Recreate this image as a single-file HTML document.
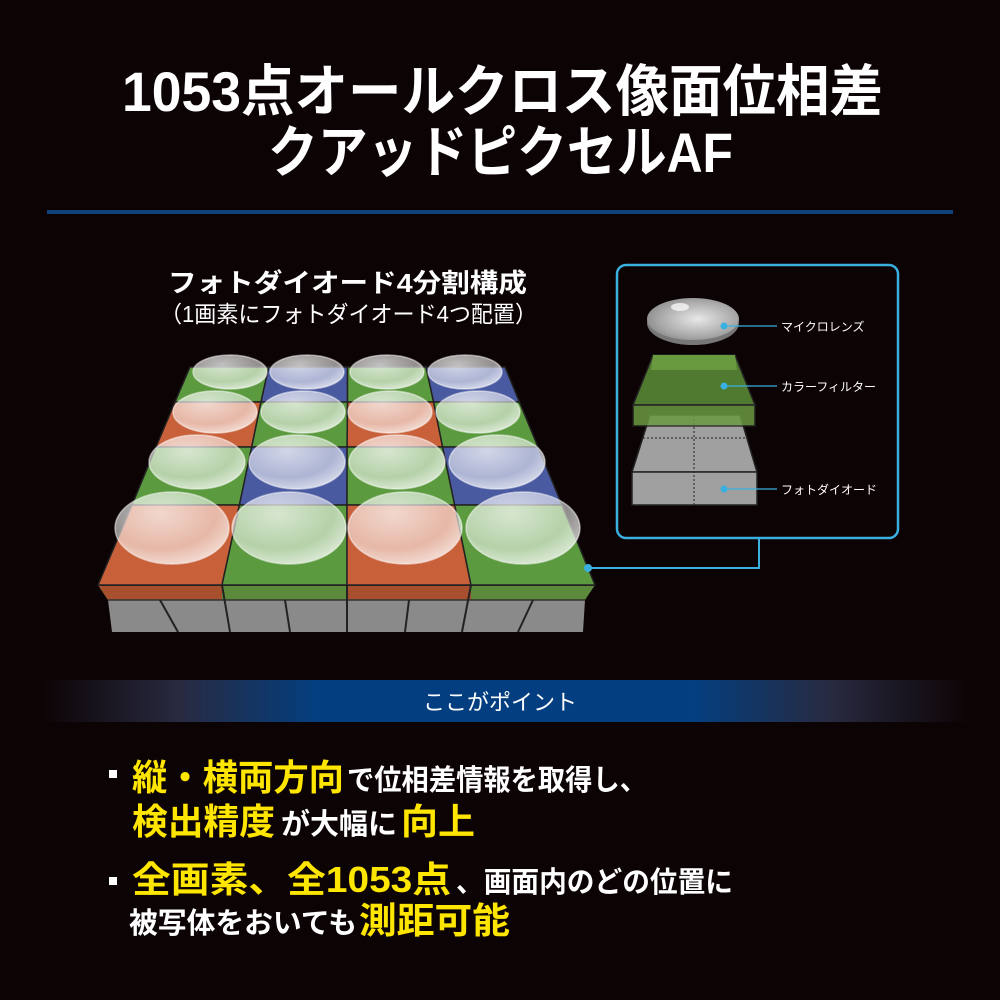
<!DOCTYPE html>
<html><head><meta charset="utf-8"><style>
html,body{margin:0;padding:0;background:#0c0304;}
svg{display:block}
text{font-family:"Liberation Sans","Noto Sans CJK JP",sans-serif;}
</style></head><body>
<svg width="1000" height="1000" viewBox="0 0 1000 1000" xmlns="http://www.w3.org/2000/svg">
<defs>
<linearGradient id="band" x1="0" x2="1" y1="0" y2="0">
<stop offset="0" stop-color="#0c0304"/><stop offset="0.15" stop-color="#282a40"/><stop offset="0.3" stop-color="#033f80"/><stop offset="0.7" stop-color="#033f80"/><stop offset="0.85" stop-color="#282a40"/><stop offset="1" stop-color="#0c0304"/>
</linearGradient>
<radialGradient id="lens" cx="0.4" cy="0.3" r="0.7">
<stop offset="0" stop-color="#ffffff" stop-opacity="0.75"/><stop offset="0.7" stop-color="#ffffff" stop-opacity="0.55"/><stop offset="1" stop-color="#ffffff" stop-opacity="0.75"/>
</radialGradient>
<radialGradient id="glens" cx="0.55" cy="0.5" r="0.6">
<stop offset="0" stop-color="#e8e8e8"/><stop offset="0.7" stop-color="#a8a8a8"/><stop offset="1" stop-color="#888"/>
</radialGradient>
</defs>
<rect width="1000" height="1000" fill="#0c0304"/>
<text x="122" y="111" font-size="56" font-weight="bold" fill="#fff" textLength="761" lengthAdjust="spacingAndGlyphs">1053点オールクロス像面位相差</text>
<text x="268" y="172" font-size="56" font-weight="bold" fill="#fff" textLength="465" lengthAdjust="spacingAndGlyphs">クアッドピクセルAF</text>
<rect x="47" y="210" width="906" height="4" fill="#10427a"/>
<text x="168" y="292" font-size="26" font-weight="bold" fill="#fff" textLength="359" lengthAdjust="spacingAndGlyphs">フォトダイオード4分割構成</text>
<text x="160" y="322" font-size="23" fill="#fff" textLength="377" lengthAdjust="spacingAndGlyphs">（1画素にフォトダイオード4つ配置）</text>

<!-- grid side -->
<polygon points="98,585 595,585 585,600 108,600" fill="#5a8a3a"/>
<polygon points="98,585 222,585 222,600 108,600" fill="#a8502e"/>
<polygon points="347,585 471,585 471,600 347,600" fill="#a8502e"/>
<polygon points="108,600 585,600 583,632 112,632" fill="#8a8a8a"/>
<line x1="98" y1="585" x2="595" y2="585" stroke="#222" stroke-width="2"/>
<line x1="108" y1="600" x2="585" y2="600" stroke="#333" stroke-width="1.5"/>
<g stroke="#222" stroke-width="2"><line x1="222" y1="585" x2="230" y2="632"/><line x1="347" y1="585" x2="347" y2="632"/><line x1="471" y1="585" x2="462" y2="632"/><line x1="160" y1="600" x2="178" y2="632"/><line x1="285" y1="600" x2="290" y2="632"/><line x1="409" y1="600" x2="405" y2="632"/><line x1="533" y1="600" x2="518" y2="632"/></g>
<!-- grid top cells -->
<g stroke="#222" stroke-width="1.5">
<polygon points="190,367 268.75,367 261,402 175,402" fill="#5c9a40"/>
<polygon points="268.75,367 347.5,367 347.5,402 261,402" fill="#4a5aa0"/>
<polygon points="347.5,367 426,367 433.6,402 347.5,402" fill="#5c9a40"/>
<polygon points="426,367 505,367 519.4,402 433.6,402" fill="#4a5aa0"/>
<polygon points="175,402 261,402 251.7,447 156,447" fill="#c8603a"/>
<polygon points="261,402 347.5,402 347.1,447 251.7,447" fill="#5c9a40"/>
<polygon points="347.5,402 433.6,402 442.6,447 347.1,447" fill="#c8603a"/>
<polygon points="433.6,402 519.4,402 538,447 442.6,447" fill="#5c9a40"/>
<polygon points="156,447 251.7,447 239.4,505 132,505" fill="#5c9a40"/>
<polygon points="251.7,447 347.1,447 347,505 239.4,505" fill="#4a5aa0"/>
<polygon points="347.1,447 442.6,447 454.7,505 347,505" fill="#5c9a40"/>
<polygon points="442.6,447 538,447 562,505 454.7,505" fill="#4a5aa0"/>
<polygon points="132,505 239.4,505 222,585 98,585" fill="#c8603a"/>
<polygon points="239.4,505 347,505 347,585 222,585" fill="#5c9a40"/>
<polygon points="347,505 454.7,505 471,585 347,585" fill="#c8603a"/>
<polygon points="454.7,505 562,505 595,585 471,585" fill="#5c9a40"/>
</g>
<!-- lenses -->
<g fill="url(#lens)" stroke="#fff" stroke-opacity="0.5" stroke-width="1.5">
<ellipse cx="230" cy="372" rx="37" ry="17"/><ellipse cx="307" cy="372" rx="37" ry="17"/><ellipse cx="387" cy="372" rx="37" ry="17"/><ellipse cx="465" cy="372" rx="37" ry="17"/>
<ellipse cx="215" cy="412" rx="42" ry="21"/><ellipse cx="303" cy="412" rx="42" ry="21"/><ellipse cx="390" cy="412" rx="42" ry="21"/><ellipse cx="478" cy="412" rx="42" ry="21"/>
<ellipse cx="197" cy="462" rx="48" ry="27"/><ellipse cx="297" cy="462" rx="48" ry="27"/><ellipse cx="397" cy="462" rx="48" ry="27"/><ellipse cx="497" cy="462" rx="48" ry="27"/>
<ellipse cx="172" cy="528" rx="57" ry="36"/><ellipse cx="289" cy="528" rx="57" ry="36"/><ellipse cx="405" cy="528" rx="57" ry="36"/><ellipse cx="523" cy="528" rx="57" ry="36"/>
</g>

<!-- connector -->
<polyline points="759,538 759,568 590,568" fill="none" stroke="#3ab0e0" stroke-width="2"/>
<circle cx="588" cy="568" r="4" fill="#3ab0e0"/>
<!-- right panel -->
<rect x="617" y="265" width="281" height="273" rx="9" fill="none" stroke="#3ab0e0" stroke-width="2.5"/>
<ellipse cx="693" cy="323" rx="46" ry="22" fill="#777"/>
<ellipse cx="693" cy="319" rx="46" ry="21" fill="url(#glens)"/>
<ellipse cx="680" cy="307" rx="9" ry="4" fill="#fff" opacity="0.7"/>
<!-- photodiode -->
<polygon points="650,415 740,415 757,472 632,472" fill="#a0a0a0" stroke="#222" stroke-width="1.5"/>
<rect x="632" y="472" width="125" height="33" fill="#a0a0a0" stroke="#222" stroke-width="1.5"/>
<line x1="694" y1="415" x2="694" y2="505" stroke="#222" stroke-dasharray="2,2"/>
<line x1="643" y1="438" x2="746" y2="438" stroke="#222" stroke-dasharray="2,2"/>
<!-- filter -->
<polygon points="653,355 735,355 755,405 633,405" fill="#4f7a30" stroke="#222" stroke-width="1.5"/>
<polygon points="653,355 735,355 737,370 651,370" fill="#6a9a40"/>
<rect x="633" y="405" width="122" height="21" fill="#6a9a40" opacity="0.85" stroke="#222" stroke-width="1.5"/>
<g fill="#3ab0e0"><circle cx="724" cy="326" r="3.5"/><circle cx="724" cy="386" r="3.5"/><circle cx="724" cy="489" r="3.5"/></g>
<g stroke="#3ab0e0" stroke-width="1.2"><line x1="724" y1="326" x2="777" y2="326"/><line x1="724" y1="386" x2="777" y2="386"/><line x1="724" y1="489" x2="777" y2="489"/></g>
<g font-size="12" fill="#fff"><text x="781" y="331">マイクロレンズ</text><text x="781" y="391">カラーフィルター</text><text x="781" y="494">フォトダイオード</text></g>

<!-- band -->
<rect x="40" y="680" width="930" height="42" fill="url(#band)"/>
<text x="500" y="710" font-size="22" fill="#fff" text-anchor="middle">ここがポイント</text>

<rect x="109" y="770" width="8" height="8" fill="#fff"/>
<rect x="109" y="877" width="8" height="8" fill="#fff"/>
<g font-weight="bold">
<text x="132" y="790" font-size="36" fill="#ffe600" textLength="212" lengthAdjust="spacingAndGlyphs">縦・横両方向</text>
<text x="347" y="790" font-size="29" fill="#fff" textLength="300" lengthAdjust="spacingAndGlyphs">で位相差情報を取得し、</text>
<text x="132" y="834" font-size="36" fill="#ffe600" textLength="143" lengthAdjust="spacingAndGlyphs">検出精度</text>
<text x="281" y="834" font-size="29" fill="#fff" textLength="116" lengthAdjust="spacingAndGlyphs">が大幅に</text>
<text x="401" y="834" font-size="36" fill="#ffe600" textLength="74" lengthAdjust="spacingAndGlyphs">向上</text>
<text x="132" y="892" font-size="36" fill="#ffe600" textLength="319" lengthAdjust="spacingAndGlyphs">全画素、全1053点</text>
<text x="456" y="892" font-size="29" fill="#fff" textLength="277" lengthAdjust="spacingAndGlyphs">、画面内のどの位置に</text>
<text x="129" y="933" font-size="29" fill="#fff" textLength="228" lengthAdjust="spacingAndGlyphs">被写体をおいても</text>
<text x="359" y="933" font-size="36" fill="#ffe600" textLength="151" lengthAdjust="spacingAndGlyphs">測距可能</text>
</g>
</svg>
</body></html>
